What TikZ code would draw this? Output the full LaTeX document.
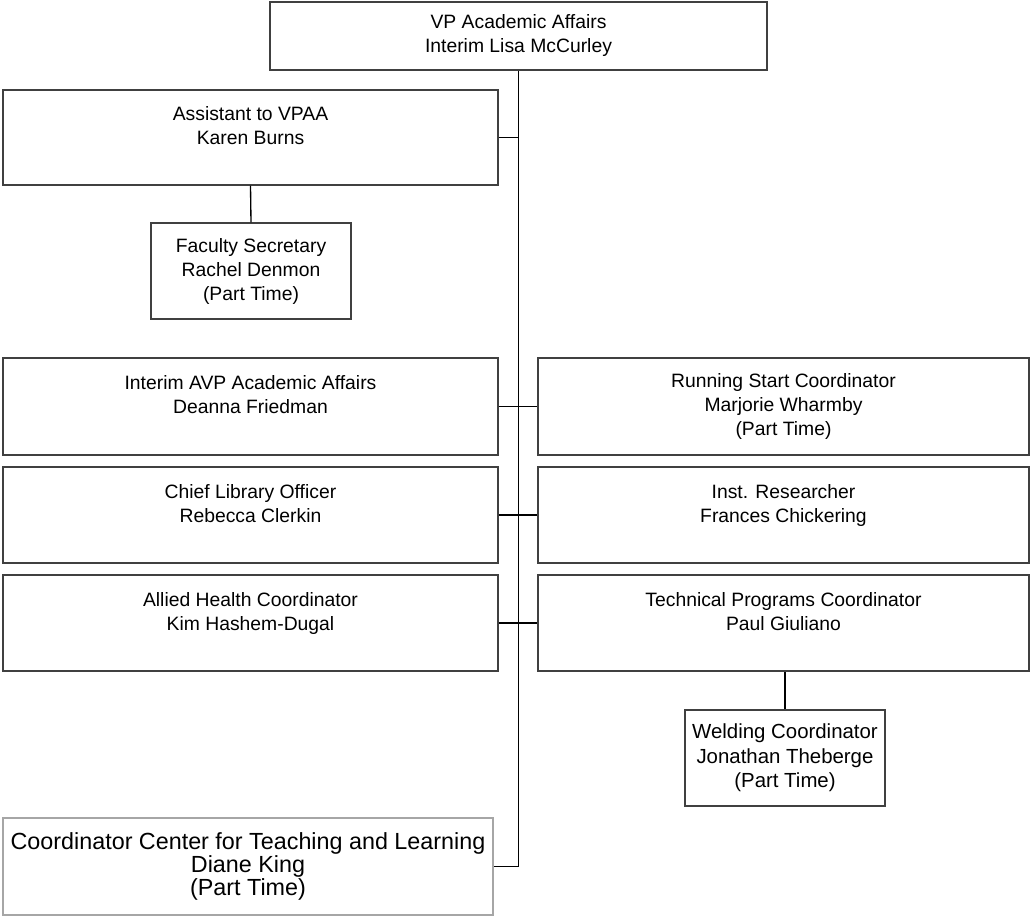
\documentclass[tikz,border=0pt]{standalone}
\usepackage{fontspec}
\setmainfont{Liberation Sans}
\begin{document}
\begin{tikzpicture}[x=0.75pt,y=-0.75pt,
  box/.style 2 args={draw=black!75, line width=0.9pt, align=center, inner sep=0pt,
    minimum width=#1*0.75pt, minimum height=#2*0.75pt,
    font=\fontsize{14.5pt}{18pt}\selectfont},
  widebox/.style 2 args={box={#1}{#2}, font=\fontsize{15.3pt}{18.5pt}\selectfont},
  bigbox/.style 2 args={box={#1}{#2}, font=\fontsize{17.5pt}{17.3pt}\selectfont},
  faint/.style={draw=black!35},
  link/.style={draw=black, line width=1pt}]
\useasboundingbox (0,0) rectangle (1032,916);

% top of the chart
\node[box={497}{68}] (vp) at (518.5,36) {VP Academic Affairs\\Interim Lisa McCurley};

% left column
\node[box={495}{95}] (asst) at (250.5,137.5) {Assistant to VPAA\\Karen Burns\\\mbox{}};
\node[box={200}{96}] (fsec) at (251,271) {Faculty Secretary\\Rachel Denmon\\(Part Time)};
\node[box={495}{97}] (avp) at (250.5,406.5) {Interim AVP Academic Affairs\\Deanna Friedman\\\mbox{}};
\node[box={495}{96}] (lib) at (250.5,515) {Chief Library Officer\\Rebecca Clerkin\\\mbox{}};
\node[box={495}{96}] (ah) at (250.5,623) {Allied Health Coordinator\\Kim Hashem-Dugal\\\mbox{}};
\node[bigbox={490}{97}, faint] (ctl) at (248,866.5) {Coordinator Center for Teaching and Learning\\Diane King\\(Part Time)};

% right column
\node[box={491}{97}] (rs) at (783.5,406.5) {Running Start Coordinator\\Marjorie Wharmby\\(Part Time)};
\node[box={491}{96}] (ir) at (783.5,515) {Inst. Researcher\\Frances Chickering\\\mbox{}};
\node[box={491}{96}] (tp) at (783.5,623) {Technical Programs Coordinator\\Paul Giuliano\\\mbox{}};
\node[widebox={200}{96}] (weld) at (785,758) {Welding Coordinator\\Jonathan Theberge\\(Part Time)};

% reporting lines
\draw[link] (vp.south) |- (ctl.east);
\draw[link] (asst.east) -- (asst.east -| vp.south);
\draw[link] (avp.east) -- (rs.west);
\draw[link] (lib.east) -- (ir.west);
\draw[link] (ah.east) -- (tp.west);
\draw[link] (asst.south) -- (fsec.north);
\draw[link] (weld.north) -- (weld.north |- tp.south);
\end{tikzpicture}
\end{document}
